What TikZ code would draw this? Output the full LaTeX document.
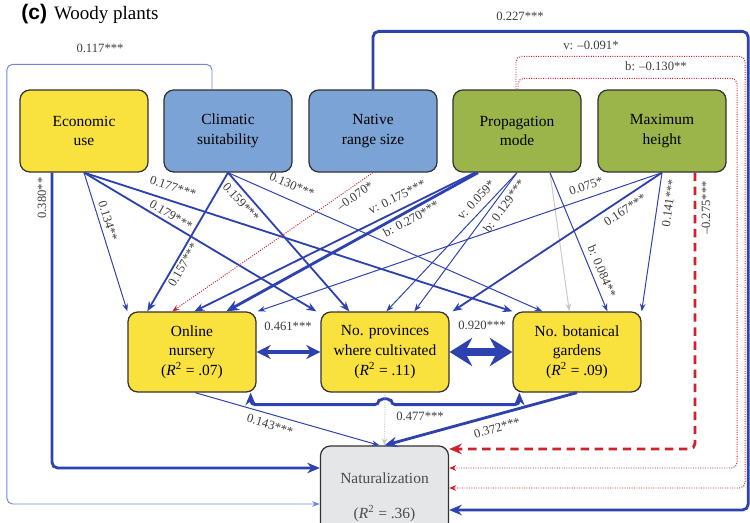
\documentclass[tikz,border=0pt]{standalone}
\usepackage{fontspec}
\setmainfont{Liberation Serif}
\newfontfamily\headsans{Liberation Sans}
\usetikzlibrary{arrows.meta,calc}

\definecolor{boxyellow}{RGB}{250,226,62}
\definecolor{boxblue}{RGB}{123,163,214}
\definecolor{boxgreen}{RGB}{155,181,75}
\definecolor{natgrey}{RGB}{229,230,232}
\definecolor{pathblue}{RGB}{45,65,175}
\definecolor{lightpath}{RGB}{115,135,215}
\definecolor{negred}{RGB}{205,35,45}
\definecolor{paleline}{RGB}{200,200,200}
\definecolor{labelgrey}{RGB}{60,60,60}

\begin{document}
\begin{tikzpicture}
[
    x=0.025cm, y=-0.025cm,
    mybox/.style={rectangle,rounded corners=7pt,draw=black!80,line width=0.9pt,minimum width=3.2cm,minimum height=2.05cm,align=center,inner sep=2pt,font=\fontsize{11}{14}\selectfont},
    usebox/.style={mybox,fill=boxyellow},
    rangebox/.style={mybox,fill=boxblue},
    traitbox/.style={mybox,fill=boxgreen},
    resbox/.style={mybox,fill=boxyellow,minimum height=2cm},
    val/.style={font=\fontsize{9}{10}\selectfont,text=labelgrey,inner sep=1pt},
    lnthin/.style={draw=pathblue,line width=0.7pt,-{Stealth[length=5.5pt,width=4pt]}},
    lnmid/.style={draw=pathblue,line width=1.3pt,-{Stealth[length=7pt,width=5.5pt]}},
    lnthick/.style={draw=pathblue,line width=2pt,-{Stealth[length=9pt,width=7.5pt]}},
    lnneg/.style={draw=negred,densely dotted,line width=0.7pt,-{Stealth[length=5pt,width=4pt]}},
]
\useasboundingbox (0,0) rectangle (750,523);

\node[anchor=west,inner sep=0pt] (title) at (21,14) {{\headsans\bfseries\fontsize{15}{15}\selectfont (c)}\hspace{5pt}{\fontsize{13.5}{15}\selectfont Woody plants}};

% predictors
\node[usebox] (econ) at (84,131) {Economic\\use};
\node[rangebox] (clim) at (228,131) {Climatic\\suitability};
\node[rangebox] (native) at (373,131) {Native\\range size};
\node[traitbox] (prop) at (517,131) {Propagation\\mode};
\node[traitbox] (maxh) at (662,131) {Maximum\\height};

% introduction effort
\node[resbox] (online) at (192,352) {Online\\nursery\\(\textit{R}\textsuperscript{2} = .07)};
\node[resbox] (prov) at (385,352) {No. provinces\\where cultivated\\(\textit{R}\textsuperscript{2} = .11)};
\node[resbox] (botan) at (577,352) {No. botanical\\gardens\\(\textit{R}\textsuperscript{2} = .09)};

\node[mybox,fill=natgrey,minimum height=2.55cm,text=black!70] (natur) at (384.5,497) {Naturalization\\[11pt](\textit{R}\textsuperscript{2} = .36)};

% economic use
\draw[lnthin] (econ.south) -- (online.north west);
\draw[lnmid] (econ.south) -- (botan.north west);
\draw[lnmid] (econ.south) -- ($(prov.north west)+(-4,0)$);
\draw[lnthick,rounded corners=4pt] ($(econ.south)+(-32,0)$) |- ($(natur.west)+(0,-29)$);

% climatic suitability
\draw[lnmid] (clim.south) -- ($(online.north west)+(20,0)$);
\draw[lnmid] (clim.south) -- ($(prov.north west)+(29,0)$);
\draw[lnthin] (clim.south) -- ($(botan.north west)+(30,0)$);
\draw[lnthin,draw=lightpath,rounded corners=4pt] ($(clim.north)+(-16,0)$) -- ++(0,-25) -| ($(natur.west)+(-313,7)$) -- ($(natur.west)+(0,7)$);

% native range size
\draw[lnneg] (native.south) -- ($(online.north west)+(45,0)$);
\draw[lnthick,rounded corners=4pt] (native.north) -- ++(0,-58) -| ($(natur.east)+(299,13)$) -- ($(natur.east)+(0,13)$);

% propagation mode
\draw[lnmid] ($(prop.south)+(-42,0)$) -- ($(online.north west)+(67,0)$);
\draw[lnthick] ($(prop.south)+(-39,0)$) -- ($(online.north west)+(99,0)$);
\draw[lnthin] (prop.south) -- ($(prov.north west)+(66,0)$);
\draw[lnthin] (prop.south) -- ($(prov.north west)+(94,0)$);
\draw[lnthin,draw=paleline] ($(prop.south)+(33,0)$) -- ($(botan.north west)+(57,0)$);
\draw[lnthin] ($(prop.south)+(33,0)$) -- ($(botan.north west)+(95,0)$);
\draw[lnneg,rounded corners=4pt] ($(prop.north)+(-1,0)$) -- ++(0,-33) -| ($(natur.east)+(296,-9)$) -- ($(natur.east)+(0,-9)$);
\draw[lnneg,rounded corners=4pt] ($(prop.north)+(1,0)$) -- ++(0,-11) -| ($(natur.east)+(288,-29)$) -- ($(natur.east)+(0,-29)$);

% maximum height
\draw[lnthin] (maxh.south) -- ($(online.north east)+(1,0)$);
\draw[lnmid] (maxh.south) -- ($(prov.north east)+(3,0)$);
\draw[lnthin] (maxh.south) -- (botan.north east);
\draw[lnthick,draw=negred,dash pattern=on 6pt off 4pt,rounded corners=4pt] ($(maxh.south)+(33,0)$) |- ($(natur.east)+(0,-48)$);

% among introduction effort
\draw[draw=pathblue,line width=2.4pt,{Stealth[length=10pt,width=10pt]}-{Stealth[length=10pt,width=10pt]}] (online.east) -- (prov.west);
\draw[draw=pathblue,line width=5.5pt,{Stealth[length=16pt,width=20pt]}-{Stealth[length=16pt,width=20pt]}] (prov.east) -- (botan.west);
\draw[lnthick,{Stealth[length=9pt,width=7.5pt]}-{Stealth[length=9pt,width=7.5pt]},rounded corners=3pt] ($(online.south east)+(-6,0)$) -- ++(0,12) -- ($(prov.south)+(-6,12)$) arc[start angle=180,end angle=0,radius=4.3pt] -- ($(botan.south west)+(7,12)$) -- ($(botan.south west)+(7,0)$);

% to naturalization
\draw[draw=paleline,densely dotted,line width=0.7pt,-{Stealth[length=5pt,width=4pt]}] (prov.south) -- (natur.north);
\draw[lnthin] ($(online.south)+(3,0)$) -- ($(natur.north)+(-5,0)$);
\draw[lnthick] (botan.south) -- (natur.north);

% coefficients
\node[val] (l117) at (100,48) {0.117***};
\node[val] (l227) at (520,16) {0.227***};
\node[val] (l091) at (591,45) {v: --0.091*};
\node[val] (l130n) at (656,66) {b: --0.130**};
\node[val,rotate=90] (l275) at (706,208) {--0.275***};
\node[val,rotate=90] (l380) at (42,198) {0.380**};
\node[val,rotate=-73] (l134) at (108,221) {0.134**};
\node[val,rotate=-18] (l177) at (173,187) {0.177***};
\node[val,rotate=-31] (l179) at (171,215) {0.179***};
\node[val,rotate=60] (l157) at (183,265) {0.157***};
\node[val,rotate=-48] (l159) at (241,202) {0.159***};
\node[val,rotate=-23] (l130) at (292,185) {0.130***};
\node[val,rotate=35] (l070) at (355,196) {--0.070*};
\node[val,rotate=26] (l175) at (397,197) {v: 0.175***};
\node[val,rotate=29] (l270) at (411,219) {b: 0.270***};
\node[val,rotate=47] (l059) at (476,200) {v: 0.059*};
\node[val,rotate=54] (l129) at (504,206) {b: 0.129***};
\node[val,rotate=-67] (l084) at (602,271) {b: 0.084**};
\node[val,rotate=19] (l075) at (586,186) {0.075*};
\node[val,rotate=33] (l167) at (625,210) {0.167***};
\node[val,rotate=82] (l141) at (669,203) {0.141***};
\node[val] (l461) at (288,326) {0.461***};
\node[val] (l920) at (482,325) {0.920***};
\node[val] (l477) at (420,416) {0.477***};
\node[val,rotate=-17] (l143) at (270,425) {0.143***};
\node[val,rotate=16] (l372) at (497,428) {0.372***};
\end{tikzpicture}
\end{document}
